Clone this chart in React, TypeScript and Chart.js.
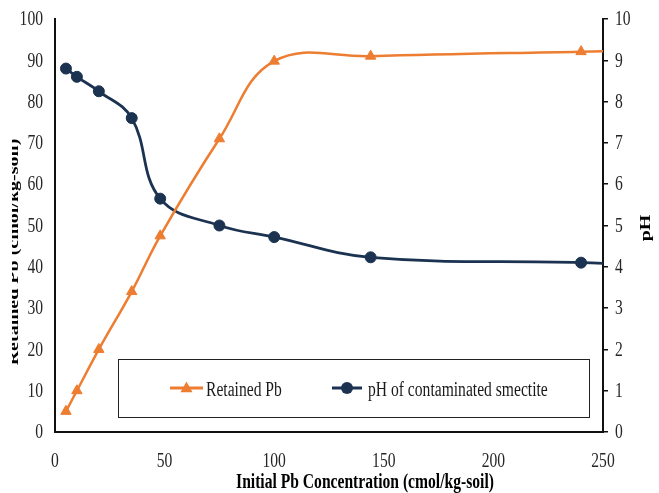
import React, { useEffect, useRef } from "react";
import { Chart, registerables } from "chart.js";

Chart.register(...registerables);

// Initial Pb concentration (cmol/kg-soil); the last sample lies past the axis end
const concentrations = [5, 10, 20, 35, 48, 75, 100, 144, 240, 290];
// Retained Pb (cmol/kg-soil)
const retainedPb = [5, 10, 20, 34, 47.5, 71, 89.8, 91, 92.1, 92.6];
// pH of the contaminated smectite
const phValues = [8.8, 8.6, 8.25, 7.6, 5.65, 5.0, 4.72, 4.23, 4.1, 4.0];

const X_TICKS = [0, 50, 100, 150, 200, 250];
const PB_TICKS = [0, 10, 20, 30, 40, 50, 60, 70, 80, 90, 100];
const PH_TICKS = [0, 1, 2, 3, 4, 5, 6, 7, 8, 9, 10];

const SERIES_LABELS = ["Retained Pb", "pH of contaminated smectite"];
const X_TITLE = "Initial Pb Concentration (cmol/kg-soil)";
const PB_TITLE = "Retained Pb (cmol/kg-soil)";
const PH_TITLE = "pH";

const ORANGE = "#ED7D31";
const NAVY = "#1B3350";
const FONT = '"Liberation Serif", "Times New Roman", serif';
const SX = 0.78; // narrow, condensed lettering

type TextOpts = {
  size?: number;
  bold?: boolean;
  align?: CanvasTextAlign;
  baseline?: CanvasTextBaseline;
  rotate?: number;
  color?: string;
};

function drawText(ctx: CanvasRenderingContext2D, text: string, x: number, y: number, o: TextOpts = {}) {
  ctx.save();
  ctx.translate(x, y);
  ctx.scale(SX, 1);
  if (o.rotate) ctx.rotate(o.rotate);
  ctx.font = `${o.bold ? "bold " : ""}${o.size ?? 20}px ${FONT}`;
  ctx.textAlign = o.align ?? "left";
  ctx.textBaseline = o.baseline ?? "alphabetic";
  ctx.fillStyle = o.color ?? "#262626";
  ctx.fillText(text, 0, 0);
  ctx.restore();
}

function drawMarker(ctx: CanvasRenderingContext2D, style: string, x: number, y: number, r: number, color: string) {
  ctx.save();
  ctx.fillStyle = color;
  ctx.beginPath();
  if (style === "triangle") {
    ctx.moveTo(x, y - r * 1.1);
    ctx.lineTo(x + r, y + r * 0.7);
    ctx.lineTo(x - r, y + r * 0.7);
    ctx.closePath();
  } else {
    ctx.arc(x, y, r, 0, Math.PI * 2);
  }
  ctx.fill();
  ctx.restore();
}

const textPlugin = {
  id: "axisText",
  afterDraw(chart: any) {
    const ctx: CanvasRenderingContext2D = chart.ctx;
    const { x, y, y1 } = chart.scales;

    X_TICKS.forEach((v) => drawText(ctx, String(v), x.getPixelForValue(v), 467, { align: "center" }));
    PB_TICKS.forEach((v) =>
      drawText(ctx, String(v), 43, y.getPixelForValue(v) + 1, { align: "right", baseline: "middle" })
    );
    PH_TICKS.forEach((v) =>
      drawText(ctx, String(v), 615, y1.getPixelForValue(v) + 1, { align: "left", baseline: "middle" })
    );

    drawText(ctx, X_TITLE, 365, 488, { align: "center", bold: true, color: "#000" });

    // left title sits partly underneath the plot's white background
    ctx.save();
    ctx.beginPath();
    ctx.rect(12, 0, 40, chart.height);
    ctx.clip();
    drawText(ctx, PB_TITLE, 17.5, 252, { align: "center", bold: true, rotate: -Math.PI / 2, color: "#000" });
    ctx.restore();

    drawText(ctx, PH_TITLE, 650, 228, { align: "center", bold: true, rotate: -Math.PI / 2, color: "#000" });

    // legend box
    const bx = 118, by = 359, bw = 471, bh = 58;
    ctx.save();
    ctx.fillStyle = "#fff";
    ctx.fillRect(bx, by, bw, bh);
    ctx.strokeStyle = "#222";
    ctx.lineWidth = 1;
    ctx.strokeRect(bx + 0.5, by + 0.5, bw, bh);
    ctx.restore();

    const items = [
      { x0: 170, x1: 203, tx: 206 },
      { x0: 332, x1: 362, tx: 368 },
    ];
    chart.data.datasets.forEach((ds: any, i: number) => {
      const it = items[i];
      const cy = 388;
      ctx.save();
      ctx.strokeStyle = ds.borderColor;
      ctx.lineWidth = 3;
      ctx.beginPath();
      ctx.moveTo(it.x0, cy);
      ctx.lineTo(it.x1, cy);
      ctx.stroke();
      ctx.restore();
      drawMarker(ctx, ds.pointStyle, (it.x0 + it.x1) / 2, cy, 6, ds.borderColor);
      drawText(ctx, ds.label, it.tx, 396, { align: "left", color: "#1a1a1a" });
    });
  },
};

export default function App() {
  const ref = useRef<HTMLCanvasElement | null>(null);

  useEffect(() => {
    if (!ref.current) return;
    const chart = new Chart(ref.current, {
      type: "line",
      data: {
        datasets: [
          {
            label: SERIES_LABELS[0],
            data: concentrations.map((c, i) => ({ x: c, y: retainedPb[i] })),
            yAxisID: "y",
            borderColor: ORANGE,
            backgroundColor: ORANGE,
            pointStyle: "triangle",
            pointRadius: 6,
            pointBorderWidth: 1,
            borderWidth: 2.5,
            tension: 0.4,
            clip: 0,
          },
          {
            label: SERIES_LABELS[1],
            data: concentrations.map((c, i) => ({ x: c, y: phValues[i] })),
            yAxisID: "y1",
            borderColor: NAVY,
            backgroundColor: NAVY,
            pointStyle: "circle",
            pointRadius: 5.5,
            pointBorderWidth: 1,
            borderWidth: 2.8,
            tension: 0.4,
            clip: 0,
          },
        ],
      },
      options: {
        responsive: false,
        animation: false,
        events: [],
        layout: { padding: { top: 19, left: 0, right: 0, bottom: 0 } },
        plugins: { legend: { display: false }, tooltip: { enabled: false } },
        scales: {
          x: {
            type: "linear",
            min: 0,
            max: 250,
            ticks: { stepSize: 50, display: false },
            grid: { display: false },
            border: { display: true, color: "#111", width: 2 },
            afterFit: (s: any) => {
              s.height = 61;
            },
          },
          y: {
            position: "left",
            min: 0,
            max: 100,
            ticks: { stepSize: 10, display: false },
            grid: { display: false },
            border: { display: true, color: "#111", width: 2 },
            afterFit: (s: any) => {
              s.width = 55;
            },
          },
          y1: {
            position: "right",
            min: 0,
            max: 10,
            ticks: { stepSize: 1, display: false },
            grid: {
              display: true,
              drawOnChartArea: false,
              drawTicks: true,
              tickLength: 5,
              color: "#111",
              lineWidth: 1.5,
            },
            border: { display: true, color: "#111", width: 2 },
            afterFit: (s: any) => {
              s.width = 56;
            },
          },
        },
      } as any,
      plugins: [textPlugin],
    });
    return () => chart.destroy();
  }, []);

  return (
    <div style={{ position: "fixed", left: 0, top: 0, width: 659, height: 493, background: "#fff" }}>
      <canvas ref={ref} width={659} height={493} style={{ display: "block" }} />
    </div>
  );
}
